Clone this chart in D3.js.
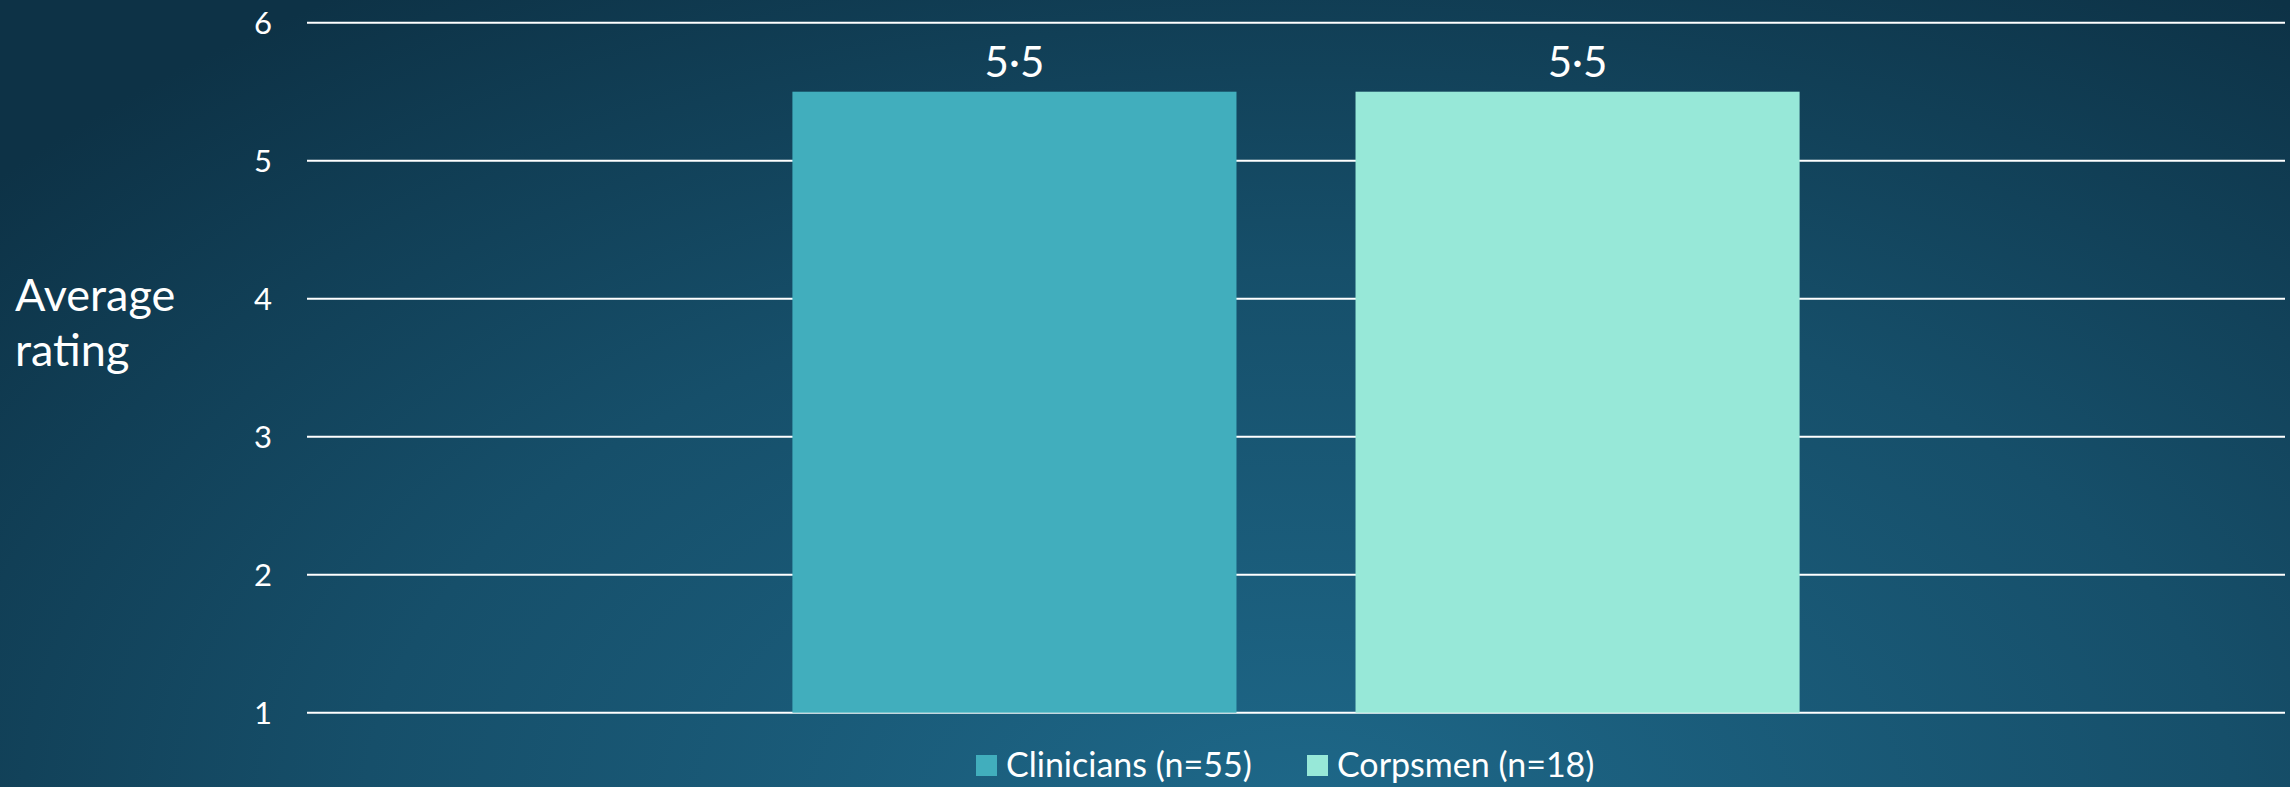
<!DOCTYPE html>
<html>
<head>
<meta charset="utf-8">
<script src="https://cdn.jsdelivr.net/npm/d3@7"></script>
<style>
    body { margin: 0; padding: 0; overflow: hidden; }
    svg { display: block; }
    text { font-family: Lato, "Open Sans", sans-serif; fill: #ffffff; }
</style>
</head>
<body>
<script>
//self executing function to keep things in local scope
(function(){

//chart data
var categories = ["Average rating"];
var seriesNames = ["Clinicians (n=55)", "Corpsmen (n=18)"];
var seriesValues = [5.5, 5.5];
var seriesColors = ["#41aebd", "#97e8d8"];
var yTicks = [1, 2, 3, 4, 5, 6];
var yTitle = ["Average", "rating"];

function setChart(){
    var width = 2290,
        height = 787;

    //plot frame
    var plotLeft = 307,
        plotRight = 2285,
        plotTop = 22.7,
        plotBottom = 712.7;

    var svg = d3.select("body")
        .append("svg")
        .attr("width", width)
        .attr("height", height);

    //background radial gradient, stretched wide
    var defs = svg.append("defs");
    var grad = defs.append("radialGradient")
        .attr("id", "bg")
        .attr("gradientUnits", "userSpaceOnUse")
        .attr("cx", 0)
        .attr("cy", 0)
        .attr("r", 1000)
        .attr("gradientTransform", "translate(1300,820) scale(1.7,1)");
    grad.append("stop").attr("offset", "0%").attr("stop-color", "#1e6889");
    grad.append("stop").attr("offset", "55%").attr("stop-color", "#164f6a");
    grad.append("stop").attr("offset", "100%").attr("stop-color", "#0d3246");

    svg.append("rect")
        .attr("width", width)
        .attr("height", height)
        .attr("fill", "url(#bg)");

    //scales
    var yScale = d3.scaleLinear()
        .domain([1, 6])
        .range([plotBottom, plotTop]);

    var x0 = d3.scaleBand()
        .domain(categories)
        .range([plotLeft, plotRight])
        .padding(0);

    var x1 = d3.scaleBand()
        .domain(seriesNames)
        .range([0, x0.bandwidth()])
        .paddingInner(0.2114)
        .paddingOuter(0.862);

    //gridlines
    svg.selectAll(".grid")
        .data(yTicks)
        .enter()
        .append("line")
        .attr("class", "grid")
        .attr("x1", plotLeft)
        .attr("x2", plotRight)
        .attr("y1", function(d){ return yScale(d); })
        .attr("y2", function(d){ return yScale(d); })
        .attr("stroke", "#ffffff")
        .attr("stroke-width", 2);

    //tick labels
    svg.selectAll(".tick")
        .data(yTicks)
        .enter()
        .append("text")
        .attr("class", "tick")
        .attr("x", 272)
        .attr("y", function(d){ return yScale(d); })
        .attr("dy", "0.36em")
        .attr("text-anchor", "end")
        .style("font-size", "31px")
        .text(function(d){ return d; });

    //axis title
    svg.append("text")
        .attr("x", 15)
        .attr("y", 311)
        .style("font-size", "45px")
        .selectAll("tspan")
        .data(yTitle)
        .enter()
        .append("tspan")
        .attr("x", 15)
        .attr("dy", function(d, i){ return i == 0 ? 0 : 55; })
        .text(function(d){ return d; });

    //bars
    var group = svg.selectAll(".group")
        .data(categories)
        .enter()
        .append("g")
        .attr("class", "group")
        .attr("transform", function(d){ return "translate(" + x0(d) + ",0)"; });

    group.selectAll("rect")
        .data(seriesNames)
        .enter()
        .append("rect")
        .attr("x", function(d){ return x1(d); })
        .attr("width", x1.bandwidth())
        .attr("y", function(d, i){ return yScale(seriesValues[i]); })
        .attr("height", function(d, i){ return yScale(1) - yScale(seriesValues[i]); })
        .attr("fill", function(d, i){ return seriesColors[i]; });

    //value labels
    group.selectAll(".value")
        .data(seriesNames)
        .enter()
        .append("text")
        .attr("class", "value")
        .attr("x", function(d){ return x1(d) + x1.bandwidth() / 2; })
        .attr("y", function(d, i){ return yScale(seriesValues[i]) - 15; })
        .attr("text-anchor", "middle")
        .style("font-size", "42px")
        .text(function(d, i){ return d3.format(".1f")(seriesValues[i]).replace(".", "·"); });

    //legend
    var legendX = [976, 1307];
    var legend = svg.selectAll(".legend")
        .data(seriesNames)
        .enter()
        .append("g")
        .attr("class", "legend")
        .attr("transform", function(d, i){ return "translate(" + legendX[i] + ",755)"; });

    legend.append("rect")
        .attr("width", 21)
        .attr("height", 21)
        .attr("fill", function(d, i){ return seriesColors[i]; });

    legend.append("text")
        .attr("x", 30)
        .attr("y", 22)
        .style("font-size", "34px")
        .text(function(d){ return d; });
};

window.onload = setChart();
})();
</script>
</body>
</html>
